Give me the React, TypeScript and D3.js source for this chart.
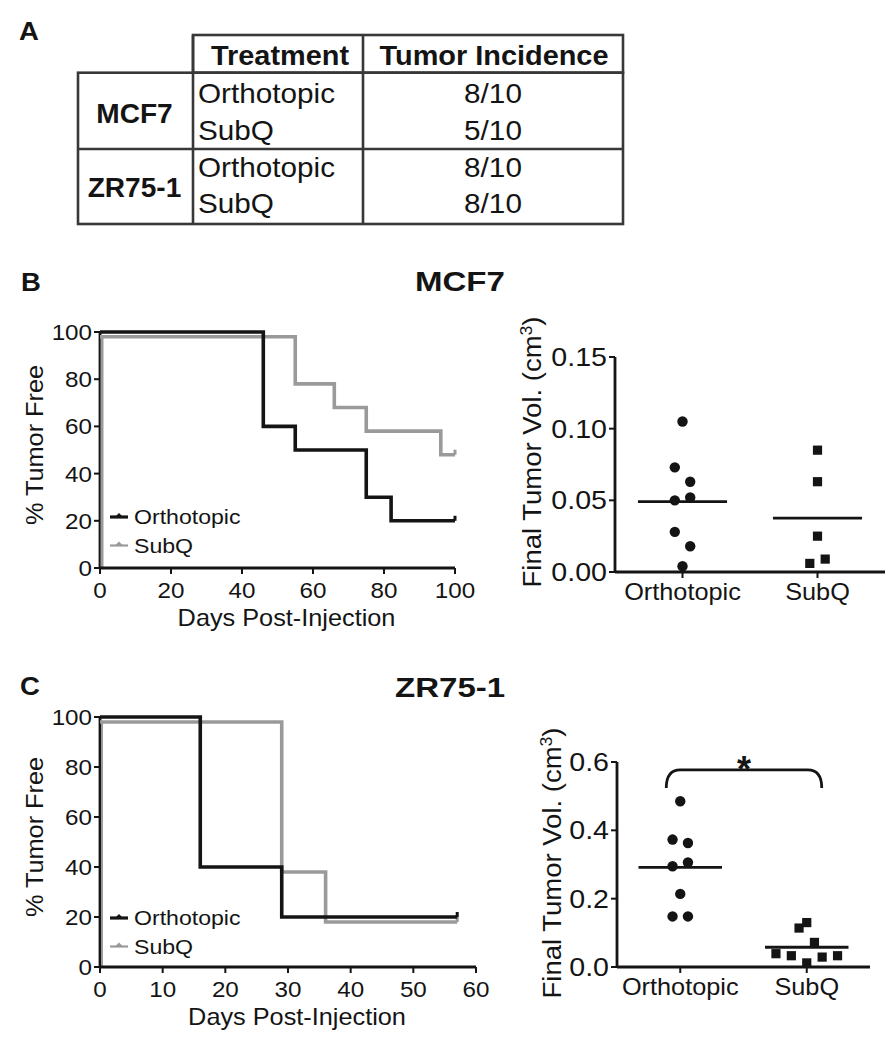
import React from "react";
import * as d3 from "d3";

// ---------- DATA ----------
const tableHeaders = ["Treatment", "Tumor Incidence"];
const tableCellLines = ["MCF7", "ZR75-1"];
const tableTreatments = ["Orthotopic", "SubQ"];
const tableIncidence = [
  ["8/10", "5/10"],
  ["8/10", "8/10"],
];

const groups = ["Orthotopic", "SubQ"];

// Kaplan-Meier (% tumor free) step data
const mcf7OrthoDays = [0, 46, 55, 75, 82, 100];
const mcf7OrthoFree = [100, 60, 50, 30, 20, 20];
const mcf7SubQDays = [0, 55, 66, 75, 96, 100];
const mcf7SubQFree = [98, 78, 68, 58, 48, 48];
const zrOrthoDays = [0, 16, 29, 57];
const zrOrthoFree = [100, 40, 20, 20];
const zrSubQDays = [0, 29, 36, 57];
const zrSubQFree = [98, 38, 18, 18];
const mcf7DayTicks = [0, 20, 40, 60, 80, 100];
const zrDayTicks = [0, 10, 20, 30, 40, 50, 60];
const freeTicks = [0, 20, 40, 60, 80, 100];

// Final tumor volume (cm3)
const mcf7OrthoVol = [0.105, 0.073, 0.063, 0.05, 0.052, 0.028, 0.018, 0.004];
const mcf7OrthoSlot = [0, -1, 1, -1, 1, -1, 1, 0];
const mcf7SubQVol = [0.085, 0.063, 0.025, 0.009, 0.006];
const mcf7SubQSlot = [0, 0, 0, 1, -1];
const zrOrthoVol = [0.485, 0.373, 0.363, 0.295, 0.306, 0.214, 0.148, 0.148];
const zrOrthoSlot = [0, -1, 1, -1, 1, 0, -1, 1];
const zrSubQVol = [0.039, 0.033, 0.029, 0.033, 0.012, 0.114, 0.13, 0.072];
const zrSubQSlot = [-4, -2, 2, 4, 0, -1, 0, 1];
const mcf7VolTicks = [0, 0.05, 0.1, 0.15];
const zrVolTicks = [0, 0.2, 0.4, 0.6];

// ---------- STYLE ----------
const FONT = "'Liberation Sans', Arial, Helvetica, sans-serif";
const SX = 1.1;
const BLACK = "#141414";
const GRAY = "#9a9a9a";

function T({ x, y, size, weight = "normal", anchor = "start", rot = 0, sx = SX, fill = BLACK, children }: any) {
  return (
    <text
      transform={`translate(${x},${y}) rotate(${rot}) scale(${sx},1)`}
      fontSize={size}
      fontWeight={weight}
      textAnchor={anchor}
      fill={fill}
      fontFamily={FONT}
    >
      {children}
    </text>
  );
}

function Table() {
  const left = 78, c1 = 193, c2 = 363, right = 623;
  const top = 35, headBottom = 72.7, mid = 149, bottom = 224;
  const rowBase = [[102.7, 140], [176.7, 213]];
  const groupBase = [122.7, 196.7];
  const st = { stroke: "#383838", strokeWidth: 2.6, fill: "none" };
  return (
    <g>
      <rect x={c1} y={top} width={right - c1} height={headBottom - top} {...st} />
      <rect x={left} y={headBottom} width={right - left} height={bottom - headBottom} {...st} />
      <line x1={c1} x2={c1} y1={top} y2={bottom} {...st} />
      <line x1={c2} x2={c2} y1={top} y2={bottom} {...st} />
      <line x1={left} x2={right} y1={mid} y2={mid} {...st} />
      <T x={(c1 + c2) / 2 + 2} y={65} size={27} weight="bold" anchor="middle" sx={1.07}>{tableHeaders[0]}</T>
      <T x={(c2 + right) / 2 + 1} y={65} size={27} weight="bold" anchor="middle" sx={1.07}>{tableHeaders[1]}</T>
      {tableCellLines.map((cl, i) => (
        <g key={cl}>
          <T x={(left + c1) / 2 - 1} y={groupBase[i]} size={27} weight="bold" anchor="middle" sx={1.04}>{cl}</T>
          {tableTreatments.map((tr, j) => (
            <g key={tr}>
              <T x={c1 + 5} y={rowBase[i][j]} size={27}>{tr}</T>
              <T x={(c2 + right) / 2} y={rowBase[i][j]} size={27} anchor="middle">{tableIncidence[i][j]}</T>
            </g>
          ))}
        </g>
      ))}
    </g>
  );
}

function KM({ xMax, xTicks, left, right, top, bottom, ortho, subq, legendY, axisGray }: any) {
  const x = d3.scaleLinear().domain([0, xMax]).range([left, right]);
  const y = d3.scaleLinear().domain([0, 100]).range([bottom, top]);
  const line = d3
    .line<[number, number]>()
    .x((d) => x(d[0]))
    .y((d) => y(d[1]))
    .curve(d3.curveStepAfter);
  const series = [
    { days: subq[0], free: subq[1], color: GRAY },
    { days: ortho[0], free: ortho[1], color: BLACK },
  ];
  return (
    <g>
      {/* axes */}
      <line x1={left} x2={left} y1={bottom} y2={top} stroke={BLACK} strokeWidth={2.8} />
      <line x1={left + 2} x2={left + 2} y1={bottom} y2={y(subq[1][0])} stroke={GRAY} strokeWidth={axisGray ? 3 : 2} />
      <line x1={left} x2={right} y1={bottom} y2={bottom} stroke={BLACK} strokeWidth={2.8} />
      {freeTicks.map((t) => (
        <g key={"y" + t}>
          <line x1={left - 6} x2={left} y1={y(t)} y2={y(t)} stroke={BLACK} strokeWidth={2} />
          <T x={left - 8} y={y(t) + 8} size={22} anchor="end">{t}</T>
        </g>
      ))}
      {xTicks.map((t: number) => (
        <g key={"x" + t}>
          <line x1={x(t)} x2={x(t)} y1={bottom} y2={bottom + 6} stroke={BLACK} strokeWidth={2} />
          <T x={x(t)} y={bottom + 30} size={22} anchor="middle">{t}</T>
        </g>
      ))}
      {/* curves */}
      {series.map((s, i) => {
        const pts: [number, number][] = s.days.map((d: number, k: number) => [d, s.free[k]]);
        const last = pts[pts.length - 1];
        return (
          <g key={i}>
            <path d={line(pts) || ""} fill="none" stroke={s.color} strokeWidth={3.6} />
            <line x1={x(last[0])} x2={x(last[0])} y1={y(last[1])} y2={y(last[1]) - 5} stroke={s.color} strokeWidth={3} />
          </g>
        );
      })}
      {/* legend */}
      {groups.map((g, i) => {
        const ly = legendY + i * 28.5;
        const col = i === 0 ? BLACK : GRAY;
        return (
          <g key={g}>
            <line x1={110} x2={128} y1={ly} y2={ly} stroke={col} strokeWidth={i === 0 ? 3.2 : 2.2} />
            <path d={`M${115},${ly} L${119},${ly - 4} L${123},${ly} Z`} fill={col} />
            <T x={134} y={ly + 7} size={21}>{g}</T>
          </g>
        );
      })}
      <T x={(left + right) / 2 + 9} y={bottom + 58} size={23} anchor="middle">Days Post-Injection</T>
      <T x={43} y={(top + bottom) / 2 - 5} size={23} anchor="middle" rot={-90}>% Tumor Free</T>
    </g>
  );
}

function Scatter({ left, right, top, bottom, yMax, ticks, fmt, ortho, subq, labelX, labelY, bracket }: any) {
  const x = d3.scalePoint<string>().domain(groups).range([left, right]).padding(0.5);
  const y = d3.scaleLinear().domain([0, yMax]).range([bottom, top]);
  const slotW = 7.7;
  const half = x.step() * 0.33;
  const oMean = d3.mean(ortho[0] as number[]) as number;
  const sMean = d3.mean(subq[0] as number[]) as number;
  const xo = x("Orthotopic") as number;
  const xs = x("SubQ") as number;
  return (
    <g>
      <line x1={left} x2={left} y1={bottom} y2={top} stroke={BLACK} strokeWidth={2.8} />
      <line x1={left} x2={right} y1={bottom} y2={bottom} stroke={BLACK} strokeWidth={2.8} />
      {ticks.map((t: number) => (
        <g key={t}>
          <line x1={left - 6} x2={left} y1={y(t)} y2={y(t)} stroke={BLACK} strokeWidth={2} />
          <T x={left - 8} y={y(t) + 9} size={26} anchor="end">{d3.format(fmt)(t)}</T>
        </g>
      ))}
      {groups.map((g) => (
        <g key={g}>
          <line x1={x(g)} x2={x(g)} y1={bottom} y2={bottom + 6} stroke={BLACK} strokeWidth={2} />
          <T x={x(g)} y={bottom + 28} size={23} anchor="middle">{g}</T>
        </g>
      ))}
      {(ortho[0] as number[]).map((v, i) => (
        <circle key={"o" + i} cx={xo + ortho[1][i] * slotW} cy={y(v)} r={5.2} fill={BLACK} />
      ))}
      {(subq[0] as number[]).map((v, i) => (
        <rect key={"s" + i} x={xs + subq[1][i] * slotW - 4.6} y={y(v) - 4.6} width={9.2} height={9.2} fill={BLACK} />
      ))}
      <line x1={xo - half} x2={xo + half} y1={y(oMean)} y2={y(oMean)} stroke={BLACK} strokeWidth={2.8} />
      <line x1={xs - half} x2={xs + half} y1={y(sMean)} y2={y(sMean)} stroke={BLACK} strokeWidth={2.8} />
      {bracket && (
        <g>
          <path
            d={`M${xo - 14},${y(0.524)} Q${xo - 14},${y(0.577)} ${xo},${y(0.577)} L${xs + 1},${y(0.577)} Q${xs + 15},${y(0.577)} ${xs + 15},${y(0.524)}`}
            fill="none"
            stroke={BLACK}
            strokeWidth={2.8}
          />
          <T x={(xo + xs) / 2 + 0.5} y={y(0.577) + 12} size={36} weight="bold" anchor="middle" sx={1}>*</T>
        </g>
      )}
      <T x={labelX} y={labelY} size={25} anchor="middle" rot={-90}>
        Final Tumor Vol. (cm<tspan fontSize={16} dy={-9}>3</tspan><tspan dy={9}>)</tspan>
      </T>
    </g>
  );
}

export default function App() {
  return (
    <svg
      width={896}
      height={1050}
      viewBox="0 0 896 1050"
      style={{ position: "absolute", left: 0, top: 0, background: "#fff" }}
    >
      <rect x={0} y={0} width={896} height={1050} fill="#fff" />
      <T x={19} y={40} size={25} weight="bold">A</T>
      <Table />

      <T x={21} y={291} size={25} weight="bold">B</T>
      <T x={415} y={291} size={28} weight="bold" sx={1.18}>MCF7</T>
      <KM
        xMax={100}
        xTicks={mcf7DayTicks}
        left={100}
        right={455}
        top={332}
        bottom={568}
        ortho={[mcf7OrthoDays, mcf7OrthoFree]}
        subq={[mcf7SubQDays, mcf7SubQFree]}
        legendY={517}
        axisGray={true}
      />
      <Scatter
        left={615}
        right={885}
        top={357}
        bottom={572}
        yMax={0.15}
        ticks={mcf7VolTicks}
        fmt=".2f"
        ortho={[mcf7OrthoVol, mcf7OrthoSlot]}
        subq={[mcf7SubQVol, mcf7SubQSlot]}
        labelX={541}
        labelY={452}
      />

      <T x={20} y={695} size={25} weight="bold">C</T>
      <T x={395} y={697} size={28} weight="bold" sx={1.18}>ZR75-1</T>
      <KM
        xMax={60}
        xTicks={zrDayTicks}
        left={100}
        right={476}
        top={717}
        bottom={967}
        ortho={[zrOrthoDays, zrOrthoFree]}
        subq={[zrSubQDays, zrSubQFree]}
        legendY={918}
        axisGray={false}
      />
      <Scatter
        left={617}
        right={870}
        top={762}
        bottom={967}
        yMax={0.6}
        ticks={zrVolTicks}
        fmt=".1f"
        ortho={[zrOrthoVol, zrOrthoSlot]}
        subq={[zrSubQVol, zrSubQSlot]}
        labelX={561}
        labelY={863}
        bracket={true}
      />
    </svg>
  );
}
